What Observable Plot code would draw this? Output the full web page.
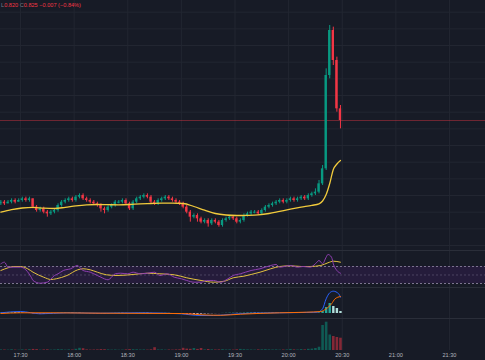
<!DOCTYPE html>
<html><head><meta charset="utf-8">
<script src="https://cdn.jsdelivr.net/npm/d3@7"></script>
<script src="https://cdn.jsdelivr.net/npm/@observablehq/plot@0.6"></script>
<style>
html,body{margin:0;padding:0;background:#171b26;}
#chart{position:relative;width:485px;height:360px;background:#171b26;overflow:hidden;font-family:"Liberation Sans",Arial,sans-serif;}
.pane{position:absolute;left:0;width:485px;}
.sep{position:absolute;left:0;width:485px;height:1px;background:#2a2e39;}
#hdr{position:absolute;top:1px;left:1px;font-size:5.6px;line-height:8px;white-space:nowrap;color:#f23645;z-index:5;}
#hdr .k{color:#787b86;}
</style></head>
<body>
<div id="chart">
  <div class="pane" id="pMain" style="top:0;height:250px"></div>
  <div class="pane" id="pRsi" style="top:250px;height:37px"></div>
  <div class="pane" id="pMacd" style="top:287px;height:31px"></div>
  <div class="pane" id="pVol" style="top:318px;height:42px"></div>
  <div class="sep" style="top:250px"></div>
  <div class="sep" style="top:287px"></div>
  <div class="sep" style="top:318px"></div>
  <div id="hdr"></div>
</div>
<script>
// ---------- data ----------
const xDomainLabels = ["17:18.8", "21:50.15"];
const tickLabels = ["17:30","18:00","18:30","19:00","19:30","20:00","20:30","21:00","21:30"];
const priceGrid = [0.75,0.76,0.77,0.78,0.79,0.80,0.81,0.82,0.83,0.84,0.85,0.86,0.87,0.88,0.89];

const candleStart = "17:19";      // 2-minute candles
const candleStepMin = 2;
const firstOpen = 0.775;
const closes = [0.776,0.775,0.776,0.777,0.776,0.777,0.778,0.777,0.778,0.773,
  0.771,0.772,0.770,0.769,0.770,0.771,0.774,0.776,0.777,0.778,
  0.777,0.779,0.780,0.778,0.777,0.776,0.775,0.774,0.772,0.771,
  0.773,0.774,0.776,0.776,0.777,0.775,0.772,0.776,0.778,0.779,
  0.780,0.779,0.776,0.775,0.777,0.778,0.779,0.778,0.777,0.776,
  0.775,0.773,0.770,0.767,0.768,0.766,0.764,0.765,0.763,0.765,
  0.764,0.762,0.765,0.766,0.767,0.766,0.764,0.765,0.768,0.769,
  0.770,0.770,0.769,0.771,0.773,0.774,0.775,0.776,0.777,0.776,
  0.777,0.778,0.777,0.778,0.779,0.778,0.780,0.781,0.782,0.787,
  0.796,0.852,0.879,0.861,0.832,0.825];
const highs = [0.777,0.777,0.777,0.778,0.778,0.778,0.779,0.779,0.779,0.778,
  0.774,0.773,0.773,0.771,0.771,0.772,0.775,0.777,0.778,0.779,
  0.779,0.780,0.781,0.781,0.779,0.778,0.777,0.776,0.775,0.773,
  0.774,0.775,0.777,0.777,0.778,0.778,0.776,0.777,0.779,0.780,
  0.781,0.781,0.780,0.777,0.778,0.779,0.780,0.780,0.779,0.778,
  0.777,0.776,0.774,0.771,0.769,0.769,0.767,0.766,0.766,0.766,
  0.766,0.765,0.766,0.767,0.768,0.768,0.767,0.766,0.769,0.770,
  0.771,0.771,0.771,0.772,0.774,0.775,0.776,0.777,0.778,0.778,
  0.778,0.779,0.779,0.779,0.780,0.780,0.781,0.782,0.784,0.789,
  0.798,0.856,0.882,0.881,0.863,0.834];
const lows = [0.774,0.774,0.775,0.775,0.775,0.776,0.776,0.776,0.776,0.772,
  0.770,0.770,0.769,0.767,0.768,0.769,0.770,0.773,0.775,0.776,
  0.776,0.776,0.778,0.777,0.776,0.775,0.774,0.773,0.770,0.769,
  0.770,0.772,0.773,0.775,0.775,0.774,0.771,0.771,0.775,0.777,
  0.778,0.778,0.775,0.774,0.774,0.776,0.777,0.777,0.776,0.775,
  0.774,0.772,0.769,0.764,0.766,0.764,0.763,0.763,0.761,0.762,
  0.763,0.761,0.761,0.764,0.765,0.765,0.763,0.763,0.764,0.767,
  0.768,0.769,0.768,0.768,0.770,0.772,0.773,0.774,0.775,0.775,
  0.775,0.776,0.776,0.776,0.777,0.777,0.777,0.779,0.780,0.781,
  0.786,0.795,0.850,0.858,0.830,0.820];
// volume, thousands
const volumes = [30,25,20,35,20,15,30,25,40,55,
  45,20,30,35,20,25,40,35,20,30,
  25,60,110,90,30,20,25,30,45,40,
  30,20,25,15,20,30,45,40,35,25,
  30,20,35,140,30,30,20,25,20,30,
  35,110,70,60,100,55,100,30,50,35,
  25,30,40,25,30,20,35,55,40,30,
  25,20,30,35,40,30,25,30,20,25,
  30,55,30,25,45,30,60,70,100,165,
  1250,1415,775,700,650,615];
const macdHist = [0.0004,0.0006,0.0008,0.0009,0.0008,0.0006,0.0004,0.0002,-0.0001,-0.0004,
  -0.0006,-0.0007,-0.0006,-0.0005,-0.0003,-0.0001,0.0002,0.0004,0.0005,0.0005,
  0.0004,0.0004,0.0003,0.0001,-0.0001,-0.0002,-0.0003,-0.0004,-0.0004,-0.0003,
  -0.0001,0.0001,0.0002,0.0003,0.0002,0.0001,-0.0001,0.0001,0.0002,0.0003,
  0.0004,0.0003,0.0001,-0.0001,0.0000,0.0001,0.0002,0.0001,0.0000,-0.0002,
  -0.0004,-0.0006,-0.0008,-0.0009,-0.0008,-0.0007,-0.0006,-0.0004,-0.0003,-0.0002,
  -0.0001,-0.0001,0.0001,0.0002,0.0003,0.0003,0.0002,0.0003,0.0004,0.0005,
  0.0005,0.0004,0.0003,0.0004,0.0004,0.0004,0.0003,0.0002,0.0002,0.0001,
  0.0001,0.0001,0.0000,0.0001,0.0001,0.0000,0.0001,0.0002,0.0003,0.0006,
  0.0020,0.0060,0.0100,0.0070,0.0050,0.0020];

// moving average on price
const maTimes = ["17:19","17:25","17:31","17:37","17:43","17:49","17:55","18:01","18:07","18:13",
  "18:19","18:25","18:31","18:37","18:43","18:49","18:55","19:01","19:07","19:13",
  "19:19","19:25","19:31","19:37","19:43","19:49","19:55","20:01","20:07","20:13",
  "20:17","20:19","20:21","20:23","20:25","20:27","20:29"];
const maValues = [0.7700,0.7715,0.7725,0.7729,0.7724,0.7722,0.7729,0.7738,0.7744,0.7746,
  0.7745,0.7744,0.7746,0.7750,0.7752,0.7754,0.7754,0.7752,0.7734,0.7712,
  0.7692,0.7683,0.7680,0.7681,0.7684,0.7692,0.7705,0.7718,0.7730,0.7741,
  0.7750,0.7767,0.7806,0.7872,0.7956,0.7989,0.8010];

// RSI
const rsiBands = [70, 50, 30];
const rsiTimes = ["17:19","17:21","17:23","17:30","17:36","17:37","17:41","17:45","17:49","17:51",
  "17:54","17:58","18:02","18:03","18:05","18:09","18:13","18:15","18:19","18:20",
  "18:23","18:26","18:30","18:33","18:37","18:41","18:45","18:48","18:52","18:56",
  "19:00","19:03","19:07","19:11","19:14","19:18","19:22","19:26","19:29","19:33",
  "19:39","19:44","19:50","19:53","19:55","20:01","20:05","20:08","20:12","20:15",
  "20:17","20:19","20:21","20:22","20:24","20:25","20:27","20:29"];
const rsiValues = [76.4,80.1,68.4,68.4,44.8,37.1,30.7,33.1,48.8,52.8,
  60.6,64.6,72.4,68.4,60.6,56.6,48.8,44.8,38.7,41.1,
  52.8,54.2,52.8,56.6,52.8,54.2,56.6,48.8,52.8,44.8,
  41.1,37.1,33.1,33.1,37.1,37.1,33.1,41.1,48.8,52.8,
  60.6,64.6,72.4,74.7,68.4,72.4,68.4,70,68.4,76.4,
  84.1,76.4,91.9,98.2,91.9,76.4,60.6,54.2];
const rsiMaTimes = ["17:19","17:23","17:26","17:30","17:34","17:37","17:43","17:47","17:50","17:56",
  "18:02","18:05","18:09","18:13","18:18","18:24","18:33","18:41","18:48","18:56",
  "19:03","19:11","19:18","19:24","19:29","19:35","19:39","19:44","19:50","19:55",
  "20:01","20:07","20:12","20:18","20:22","20:25","20:29"];
const rsiMaValues = [60.6,66.9,70,70,64.6,56.6,44.8,39.4,41.1,48.8,
  62.2,64.6,62.2,56.6,50.5,48.8,51.2,54.2,52.8,50.5,
  43.4,37.1,33.1,35.4,43.4,47.2,51.2,56.6,64.6,70,
  71.6,70,70,72.4,78.7,82.5,80.1];

// MACD
const macdTimes = ["17:19","17:30","17:41","17:56","18:15","18:37","19:00","19:05","19:11","19:18",
  "19:29","19:39","19:55","20:16","20:19","20:21","20:23","20:25","20:28","20:29"];
const macdValues = [0.0007,0.002,-0.0003,0.0007,0.0003,0.0007,-0.0003,-0.0013,-0.002,-0.002,
  -0.0007,0.0003,0.0007,0.0013,0.0047,0.0147,0.0207,0.0223,0.0197,0.0163];
const signalTimes = ["17:19","17:30","17:47","18:15","19:00","19:11","19:22","19:33","19:55","20:10",
  "20:18","20:21","20:24","20:26","20:29"];
const signalValues = [0,0.0007,0.0007,0.0003,0,-0.0013,-0.0018,-0.0007,0.0007,0.0013,
  0.002,0.0047,0.0097,0.0147,0.017];

// ---------- helpers ----------
const toMin = s => { const [h, m] = s.split(":"); return (+h) * 60 + (+m); };
const fmtTime = m => `${String(Math.floor(m / 60)).padStart(2, "0")}:${String(Math.round(m % 60)).padStart(2, "0")}`;
const xDomain = xDomainLabels.map(toMin);
const tickVals = tickLabels.map(toMin);

const UP = "#089981", DOWN = "#f23645";
const GRID = "#222631";
const FONT = "'Liberation Sans', Arial, sans-serif";

const t0 = toMin(candleStart);
const candles = closes.map((c, i) => ({
  t: t0 + i * candleStepMin,
  o: i === 0 ? firstOpen : closes[i - 1],
  c, h: highs[i], l: lows[i], v: volumes[i], hist: macdHist[i]
}));
candles.forEach((d, i) => {
  d.up = d.c >= d.o;
  const prev = i ? candles[i - 1].hist : 0;
  d.histColor = d.hist >= 0 ? (d.hist >= prev ? "#26a69a" : "#b2dfdb") : (d.hist <= prev ? "#ff5252" : "#ffcdd2");
});
const ma = maTimes.map((t, i) => ({t: toMin(t), v: maValues[i]}));
const rsi = rsiTimes.map((t, i) => ({t: toMin(t), v: rsiValues[i]}));
const rsiMa = rsiMaTimes.map((t, i) => ({t: toMin(t), v: rsiMaValues[i]}));
const macd = macdTimes.map((t, i) => ({t: toMin(t), v: macdValues[i]}));
const signal = signalTimes.map((t, i) => ({t: toMin(t), v: signalValues[i]}));

const baseStyle = {background: "transparent", overflow: "visible", fontFamily: FONT};
const halfBody = 0.66;

// ---------- main price pane ----------
const last = candles[candles.length - 1];
const main = Plot.plot({
  width: 485, height: 250, margin: 0,
  style: baseStyle,
  x: {domain: xDomain, axis: null},
  y: {domain: [0.747, 0.897], axis: null},
  marks: [
    Plot.ruleX(tickVals, {stroke: GRID}),
    Plot.ruleY(priceGrid, {stroke: GRID}),
    Plot.ruleY([last.c], {stroke: "#f23645", strokeOpacity: 0.4}),
    Plot.ruleX(candles, {x: "t", y1: "l", y2: "h", stroke: d => d.up ? UP : DOWN, strokeWidth: 1}),
    Plot.rect(candles, {x1: d => d.t - halfBody, x2: d => d.t + halfBody, y1: "o", y2: "c", fill: d => d.up ? UP : DOWN}),
    Plot.ruleY(candles.filter(d => d.o === d.c), {x1: d => d.t - halfBody, x2: d => d.t + halfBody, y: "c", stroke: UP}),
    Plot.line(ma, {x: "t", y: "v", stroke: "#f2cb3c", strokeWidth: 1.3, curve: "monotone-x"})
  ]
});
document.getElementById("pMain").appendChild(main);

// ---------- RSI pane ----------
const rsiPlot = Plot.plot({
  width: 485, height: 37, margin: 0,
  style: baseStyle,
  x: {domain: xDomain, axis: null},
  y: {domain: [20.6, 107.6], axis: null},
  marks: [
    Plot.ruleX(tickVals, {stroke: GRID}),
    Plot.rect([rsiBands], {x1: () => xDomain[0], x2: () => xDomain[1], y1: d => d[2], y2: d => d[0], fill: "#251c3b"}),
    Plot.ruleY([rsiBands[0], rsiBands[2]], {stroke: "#7d7590", strokeDasharray: "2,2"}),
    Plot.ruleY([rsiBands[1]], {stroke: "#7d7590", strokeOpacity: 0.45, strokeDasharray: "2,2"}),
    Plot.line(rsiMa, {x: "t", y: "v", stroke: "#e3c13f", strokeWidth: 1, curve: "monotone-x"}),
    Plot.line(rsi, {x: "t", y: "v", stroke: "#8e3fb0", strokeWidth: 1, curve: "monotone-x"})
  ]
});
document.getElementById("pRsi").appendChild(rsiPlot);

// ---------- MACD pane ----------
const macdPlot = Plot.plot({
  width: 485, height: 31, margin: 0,
  style: baseStyle,
  x: {domain: xDomain, axis: null},
  y: {domain: [-0.005, 0.026], axis: null},
  marks: [
    Plot.ruleX(tickVals, {stroke: GRID}),
    Plot.ruleX(candles, {x: "t", y1: () => 0, y2: "hist", stroke: "histColor", strokeWidth: 2.4}),
    Plot.line(macd, {x: "t", y: "v", stroke: "#2962ff", strokeWidth: 1, curve: "monotone-x"}),
    Plot.line(signal, {x: "t", y: "v", stroke: "#ff6d00", strokeWidth: 1, curve: "monotone-x"})
  ]
});
document.getElementById("pMacd").appendChild(macdPlot);

// ---------- volume pane + time axis ----------
const volPlot = Plot.plot({
  width: 485, height: 42, marginTop: 0, marginBottom: 10, marginLeft: 0, marginRight: 0,
  style: {...baseStyle, color: "#b2b5be"},
  x: {domain: xDomain},
  y: {domain: [0, 1600], axis: null},
  marks: [
    Plot.ruleX(tickVals, {stroke: GRID}),
    Plot.ruleX(candles, {x: "t", y1: () => 0, y2: "v", stroke: d => d.up ? "rgba(8,153,129,0.5)" : "rgba(242,54,69,0.5)", strokeWidth: 2.6}),
    Plot.axisX(tickVals, {tickSize: 0, tickPadding: 2.5, tickFormat: fmtTime, fontSize: 5.6, fill: "#b2b5be", label: null})
  ]
});
document.getElementById("pVol").appendChild(volPlot);

// ---------- header (OHLC of the last candle) ----------
const f3 = d3.format(".3f");
const chg = last.c - last.o;
const pct = chg / last.o * 100;
document.getElementById("hdr").innerHTML =
  `<span class="k">L</span>${f3(last.l)} <span class="k">C</span>${f3(last.c)} ${f3(chg)} (${d3.format(".2f")(pct)}%)`;
</script>
</body></html>
